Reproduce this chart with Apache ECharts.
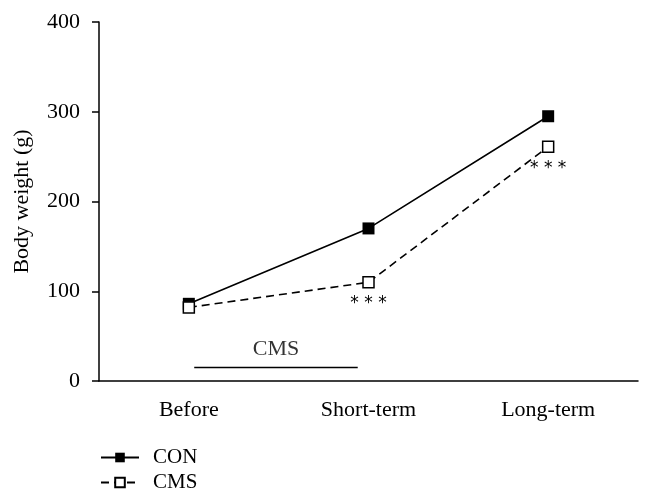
<!DOCTYPE html>
<html>
<head>
<meta charset="utf-8">
<script src="https://cdn.jsdelivr.net/npm/echarts@6/dist/echarts.min.js"></script>
<style>html,body{margin:0;padding:0;background:#fff}#c{width:654px;height:504px}</style>
</head>
<body>
<div id="c"></div>
<script>
var categories = ['Before', 'Short-term', 'Long-term'];
var conValues = [86, 170, 295];
var cmsValues = [82, 110, 261];
var significance = ['', '***', '***'];
var yTicks = [0, 100, 200, 300, 400];
var cmsPeriod = [[0.03, 15], [0.94, 15]];
var cmsPeriodLabel = 'CMS';

var font = 'Liberation Serif';
var chart = echarts.init(document.getElementById('c'));
chart.setOption({
  animation: false,
  backgroundColor: '#fff',
  grid: { left: 99, right: 16, top: 22, bottom: 123 },
  legend: {
    orient: 'vertical', left: 95, top: 442, itemWidth: 38, itemHeight: 12, itemGap: 4,
    textStyle: { fontFamily: font, fontSize: 21, color: '#000', padding: [0, 0, 0, 9] },
    data: ['CON', 'CMS']
  },
  xAxis: [{
    type: 'category', data: categories, boundaryGap: true,
    axisLine: { lineStyle: { color: '#000', width: 1.5 } },
    axisTick: { alignWithLabel: true, length: 10, lineStyle: { color: '#000', width: 1.5 } },
    axisLabel: { fontFamily: font, fontSize: 22, color: '#000', margin: 18 }
  }, {
    type: 'value', min: -0.5, max: 2.5, show: false
  }],
  yAxis: {
    type: 'value', min: yTicks[0], max: yTicks[yTicks.length - 1], interval: 100,
    name: 'Body weight (g)', nameLocation: 'middle', nameGap: 66,
    nameTextStyle: { fontFamily: font, fontSize: 22, color: '#000' },
    splitLine: { show: false },
    axisLine: { show: true, onZero: false, lineStyle: { color: '#000', width: 1.5 } },
    axisTick: { show: true, length: 7, lineStyle: { color: '#000', width: 1.5 } },
    axisLabel: { fontFamily: font, fontSize: 22, color: '#000', margin: 19 }
  },
  series: [{
    name: 'CON', type: 'line', data: conValues,
    symbol: 'rect', symbolSize: 12,
    itemStyle: { color: '#000' },
    lineStyle: { color: '#000', width: 1.6 }
  }, {
    name: 'CMS', type: 'line', data: cmsValues,
    symbol: 'rect', symbolSize: 11,
    itemStyle: { color: '#fff', borderColor: '#000', borderWidth: 1.5 },
    lineStyle: { color: '#000', width: 1.6, type: [8, 5] },
    label: {
      show: true, position: 'bottom', distance: 7,
      fontFamily: 'DejaVu Sans', fontSize: 17, color: '#000',
      formatter: function (p) { return significance[p.dataIndex].split('').join(' '); }
    }
  }, {
    name: 'period', type: 'line', xAxisIndex: 1, data: cmsPeriod,
    symbol: 'none', lineStyle: { color: '#000', width: 1.5 }, silent: true
  }, {
    name: 'periodLabel', type: 'scatter', xAxisIndex: 1,
    data: [[(cmsPeriod[0][0] + cmsPeriod[1][0]) / 2, cmsPeriod[0][1]]],
    symbolSize: 0, silent: true,
    label: { show: true, position: 'top', distance: 7, formatter: cmsPeriodLabel,
      fontFamily: font, fontSize: 22, color: '#000' }
  }]
});
</script>
</body>
</html>
